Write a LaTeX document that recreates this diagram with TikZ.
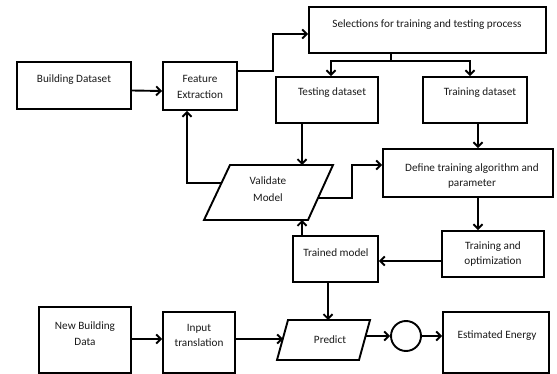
\documentclass[tikz,border=0pt]{standalone}
\usepackage{fontspec}
\setmainfont{Carlito}
\usetikzlibrary{arrows.meta,calc}
\begin{document}
\begin{tikzpicture}[x=1pt,y=-1pt,
  box/.style={draw=black,line width=1.9pt,inner sep=0pt},
  txt/.style={font=\fontsize{11.2}{12.5}\selectfont,text=black!90,inner sep=0pt,align=center},
  ln/.style={line width=1.9pt,draw=black},
  arr/.style={ln,-{Straight Barb[length=4.5pt,width=9pt,line width=1.9pt]}}]
\useasboundingbox (0,0) rectangle (557,374);
% boxes (center, size)
\node[box,minimum width=114pt,minimum height=47pt] (bd) at (74,85.5) {};
\node[txt] (bdt) at (74,80) {Building Dataset};
\node[box,minimum width=74pt,minimum height=48pt] (fe) at (200,86) {};
\node[txt] (fet) at (200,87) {Feature\\[3pt]Extraction};
\node[box,minimum width=237pt,minimum height=46pt] (sel) at (427.5,30) {};
\node[txt] (selt) at (427,25) {Selections for training and testing process};
\node[box,minimum width=102pt,minimum height=46pt] (test) at (327,100) {};
\node[txt] (testt) at (332,93) {Testing dataset};
\node[box,minimum width=104pt,minimum height=46pt] (train) at (475,100) {};
\node[txt] (traint) at (480,93) {Training dataset};
\node[box,minimum width=170pt,minimum height=48pt] (def) at (468,173) {};
\node[txt] (deft) at (472,176) {Define training algorithm and\\[3pt]parameter};
\node[box,minimum width=102pt,minimum height=46pt] (topt) at (493,254) {};
\node[txt] (toptt) at (493,254) {Training and\\[3pt]optimization};
\node[box,minimum width=85pt,minimum height=46pt] (tm) at (335.5,259) {};
\node[txt] (tmt) at (336,253) {Trained model};
\node[box,minimum width=92pt,minimum height=66pt] (nb) at (85,340) {};
\node[txt] (nbt) at (85,333.5) {New Building\\[3pt]Data};
\node[box,minimum width=72pt,minimum height=61pt] (it) at (199,342.5) {};
\node[txt] (itt) at (199,335.5) {Input\\[3pt]translation};
\node[box,minimum width=106pt,minimum height=61pt] (est) at (496,342.5) {};
\node[txt] (estt) at (497,336) {Estimated Energy};
\node[draw=black,line width=1.9pt,circle,minimum size=30pt,inner sep=0pt] (circ) at (406,336) {};
% parallelograms
\coordinate (v1) at (230,165); \coordinate (v2) at (333,165);
\coordinate (v3) at (308,220); \coordinate (v4) at (204,220);
\draw[ln,line join=miter] (v1) -- (v2) -- (v3) -- (v4) -- cycle;
\node[txt] (val) at (268,189) {Validate\\[4pt]Model};
\coordinate (p1) at (288,320); \coordinate (p2) at (370,320);
\coordinate (p3) at (359,360); \coordinate (p4) at (277,360);
\draw[ln,line join=miter] (p1) -- (p2) -- (p3) -- (p4) -- cycle;
\node[txt] (pred) at (330,340) {Predict};
% connectors
\draw[arr] ([yshift=-5pt]bd.east) -- ([yshift=-5pt]fe.west);
\draw[arr] (fe.east |- 0,71) -- (273,71) |- (sel.west |- 0,34);
\coordinate (split) at (391,61);
\draw[ln] (sel.south -| split) -- (split);
\draw[arr] (split) -| (test.north -| 331,0);
\draw[arr] (split) -| (train.north -| 470,0);
\draw[arr] (test.south -| 302,0) -- (302,165);
\draw[arr] (train.south -| 478,0) -- (def.north -| 478,0);
\draw[arr] (318,198) -- (352,198) |- (def.west |- 0,165);
\draw[arr] (221.5,183) -| (fe.south -| 187,0);
\draw[arr] (def.south -| 478,0) -- (topt.north -| 478,0);
\draw[arr] (topt.west |- 0,261) -- (tm.east |- 0,261);
\draw[arr] (tm.north -| 302,0) -- (302,220);
\draw[arr] (tm.south -| 328,0) -- (328,320);
\draw[arr] (nb.east |- 0,339) -- (it.west |- 0,339);
\draw[arr] (it.east |- 0,339) -- (283,339);
\draw[arr] (365,336) -- (circ.west);
\draw[arr] (circ.east) -- (est.west |- circ);
\end{tikzpicture}
\end{document}
